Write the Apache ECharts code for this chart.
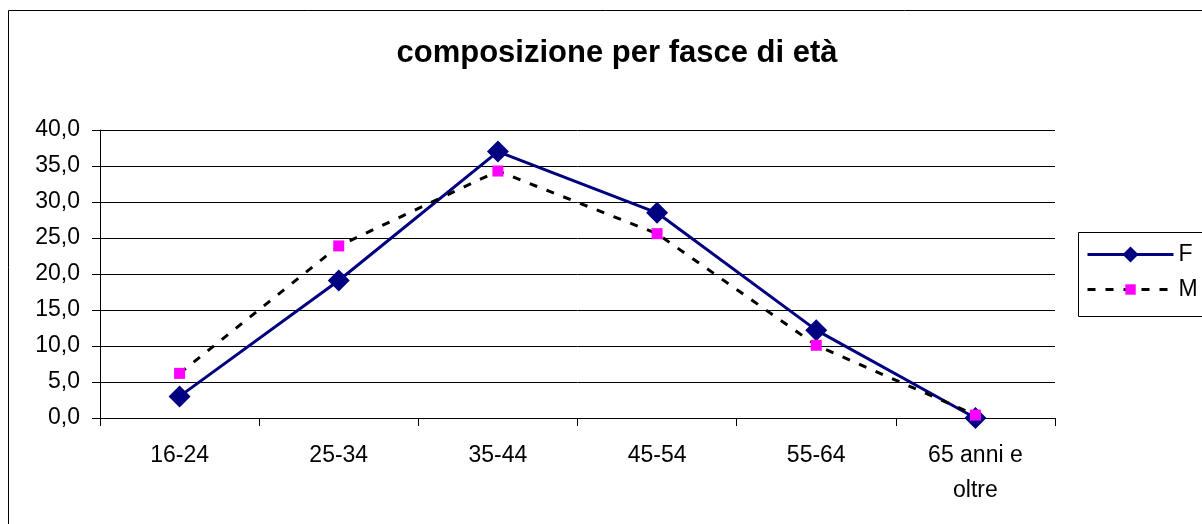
<!DOCTYPE html>
<html>
<head>
<meta charset="utf-8">
<script src="https://cdn.jsdelivr.net/npm/echarts@6/dist/echarts.min.js"></script>
<style>
  html, body { margin: 0; padding: 0; background: #fff; }
  #chart { width: 1202px; height: 524px; }
</style>
</head>
<body>
<div id="chart"></div>
<script>
var categories = ['16-24', '25-34', '35-44', '45-54', '55-64', '65 anni e\noltre'];
var valuesF = [3.0, 19.1, 37.0, 28.5, 12.2, 0.0];
var valuesM = [6.2, 23.9, 34.3, 25.6, 10.1, 0.4];
var yTicks = { min: 0, max: 40, interval: 5 };

var myChart = echarts.init(document.getElementById('chart'));
var font = 'Liberation Sans, Arial, sans-serif';

// legend box is drawn once, the two legend entries sit inside it
var legendText = { fontFamily: font, fontSize: 23, color: '#000' };

var option = {
	backgroundColor: '#fff',
	textStyle: { fontFamily: font },
	graphic: [{
		type: 'rect',
		shape: { x: 8.5, y: 10.5, width: 1300, height: 600 },
		style: { fill: 'none', stroke: '#000', lineWidth: 1 },
		silent: true
	}, {
		type: 'rect',
		shape: { x: 1078.5, y: 232.5, width: 200, height: 84 },
		style: { fill: 'none', stroke: '#000', lineWidth: 1 },
		silent: true
	}],
	title: {
		text: 'composizione per fasce di età',
		left: 612,
		textAlign: 'center',
		top: 33,
		textStyle: { fontFamily: font, fontSize: 31, fontWeight: 'bold', color: '#000' }
	},
	legend: [{
		orient: 'vertical',
		left: 1086,
		top: 243,
		padding: 0,
		itemWidth: 86,
		itemHeight: 20,
		lineStyle: { width: 3 },
		textStyle: legendText,
		data: ['F']
	}, {
		orient: 'vertical',
		left: 1086,
		top: 278,
		padding: 0,
		itemWidth: 86,
		itemHeight: 13,
		lineStyle: { width: 3 },
		textStyle: legendText,
		data: ['M']
	}],
	grid: { left: 100, right: 147, top: 130, bottom: 106 },
	xAxis: {
		type: 'category',
		data: categories,
		boundaryGap: true,
		axisLine: { lineStyle: { color: '#000', width: 1 } },
		axisTick: { show: true, length: 8, lineStyle: { color: '#000' } },
		axisLabel: { color: '#000', fontSize: 23, fontFamily: font, margin: 20, lineHeight: 35, interval: 0 }
	},
	yAxis: {
		type: 'value',
		min: yTicks.min,
		max: yTicks.max,
		interval: yTicks.interval,
		axisLine: { show: true, lineStyle: { color: '#000', width: 1 } },
		axisTick: { show: true, length: 8, lineStyle: { color: '#000' } },
		splitLine: { show: true, lineStyle: { color: '#000', width: 1 } },
		axisLabel: {
			color: '#000', fontSize: 23, fontFamily: font, margin: 20,
			formatter: function (v) { return v.toFixed(1).replace('.', ','); }
		}
	},
	series: [{
		name: 'F',
		type: 'line',
		data: valuesF,
		symbol: 'diamond',
		symbolSize: 22,
		itemStyle: { color: '#000080' },
		lineStyle: { color: '#000080', width: 3 },
		z: 3
	}, {
		name: 'M',
		type: 'line',
		data: valuesM,
		symbol: 'rect',
		symbolSize: 11,
		itemStyle: { color: '#ff00ff' },
		lineStyle: { color: '#000', width: 3, type: [8, 10] },
		z: 4
	}]
};
myChart.setOption(option);
</script>
</body>
</html>
